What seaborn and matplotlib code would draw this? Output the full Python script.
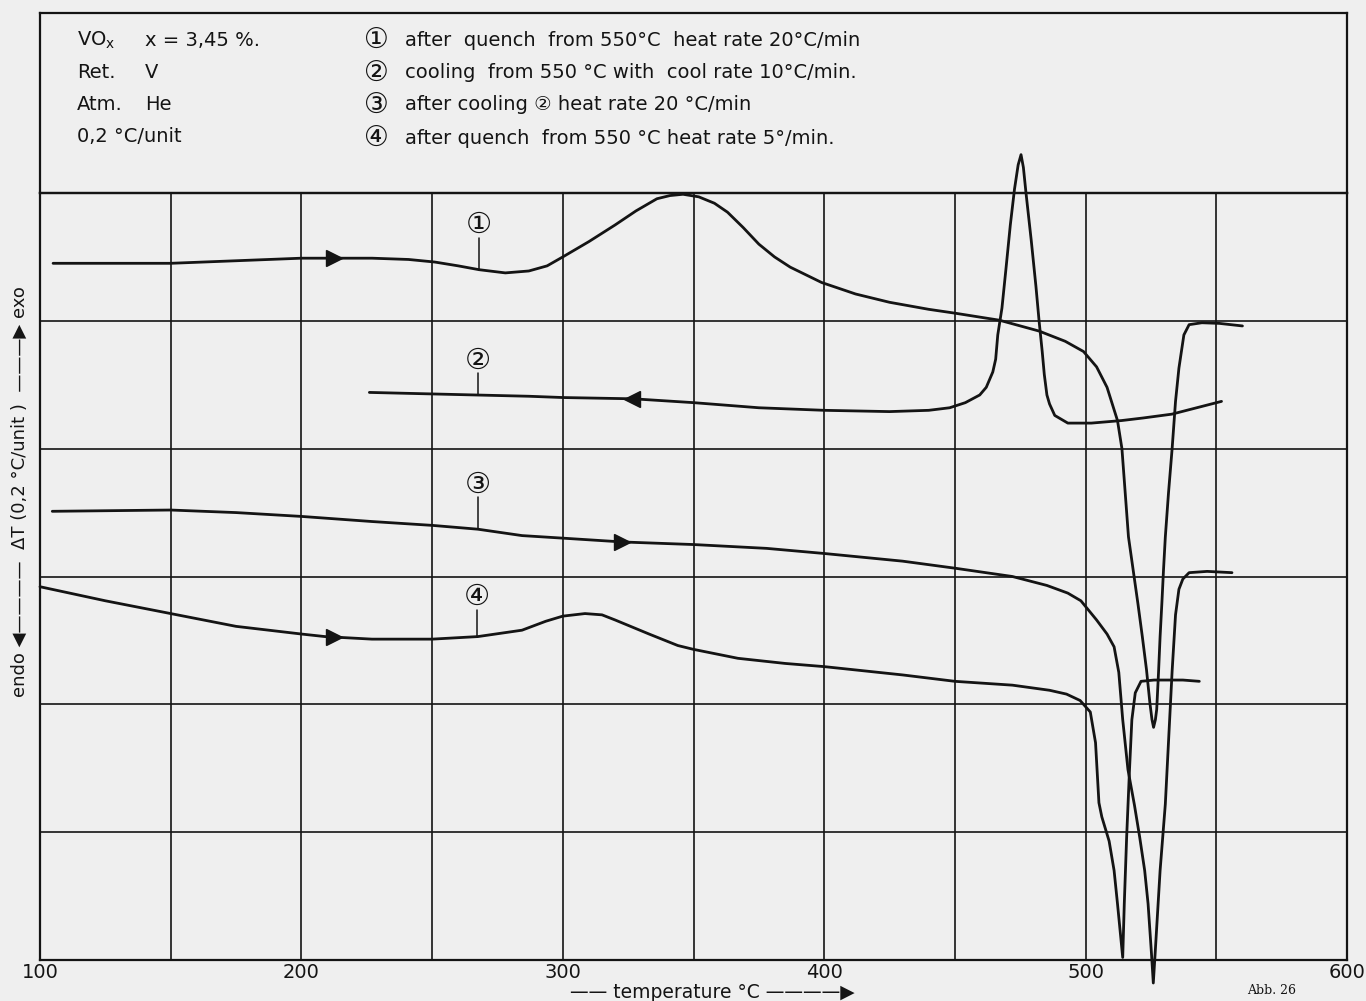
import numpy as np
import pandas as pd
import matplotlib
matplotlib.use("Agg")
import matplotlib.pyplot as plt
import seaborn as sns

# ---------------- data (temperature in °C, ΔT in grid units of 0.2 °C) ----------------
c1_T = [105, 130, 150, 175, 200, 227, 241, 251, 260, 268, 278, 287, 294, 300, 310, 320, 328,
        336, 341, 346, 352, 358, 363, 369, 375, 381, 387, 399, 412, 425, 440, 450, 467, 482.2,
        492.2, 499.2, 504.2, 508.2, 512.2, 513.9, 516.4, 518.2, 520, 521.7, 523.3, 524.6, 525.4,
        526, 526.7, 527.2, 527.9, 528.5, 529.2, 529.8, 530.5, 531.7, 533.1, 534.4, 535.7, 537.6,
        539.6, 544.5, 551.2, 560]
c1_dT = [5.45, 5.45, 5.45, 5.47, 5.49, 5.49, 5.48, 5.46, 5.43, 5.40, 5.375, 5.39, 5.43, 5.50,
         5.62, 5.75, 5.86, 5.955, 5.98, 5.99, 5.97, 5.92, 5.85, 5.73, 5.60, 5.50, 5.42, 5.30,
         5.21, 5.145, 5.09, 5.06, 5.005, 4.92, 4.84, 4.76, 4.64, 4.48, 4.22, 4.0, 3.31, 3.05,
         2.79, 2.53, 2.27, 2.01, 1.88, 1.82, 1.88, 1.96, 2.25, 2.53, 2.80, 3.05, 3.31, 3.65, 4.0,
         4.37, 4.63, 4.89, 4.97, 4.985, 4.98, 4.96]

# cooling run: recorded from high to low temperature
c2_T = [552, 542.5, 533, 522, 513.8, 502.2, 493.2, 488.2, 486.2, 485.2, 484.2, 483.4, 482.2,
        481, 479.2, 477.2, 476.2, 475.3, 474.2, 472.8, 471.2, 469.5, 468, 466.4, 465.6, 464.5,
        462, 459.5, 454, 448, 440, 425, 400, 375, 350, 327, 300, 287, 266.5, 226]
c2_dT = [4.37, 4.32, 4.27, 4.24, 4.22, 4.20, 4.20, 4.26, 4.35, 4.42, 4.58, 4.76, 5.0, 5.27,
         5.63, 6.0, 6.2, 6.30, 6.22, 6.03, 5.75, 5.40, 5.10, 4.89, 4.70, 4.60, 4.48, 4.42, 4.36,
         4.32, 4.30, 4.29, 4.30, 4.32, 4.36, 4.39, 4.40, 4.41, 4.42, 4.44]

c3_T = [104.7, 150, 175, 200, 227, 250, 267.5, 284.4, 300, 323, 350, 378, 400, 430, 450, 472,
        485.2, 493.2, 498.2, 504.2, 508.2, 510.9, 512.7, 514.2, 516.2, 518.7, 520.7, 522.6,
        523.9, 525.2, 525.9, 526.6, 528.5, 530.5, 531.8, 533.1, 534.4, 535.7, 537.2, 539.6,
        546.5, 556]
c3_dT = [3.51, 3.52, 3.50, 3.47, 3.43, 3.40, 3.37, 3.32, 3.30, 3.27, 3.25, 3.22, 3.18, 3.12,
         3.065, 3.0, 2.93, 2.87, 2.81, 2.66, 2.55, 2.45, 2.25, 1.88, 1.49, 1.21, 0.96, 0.70,
         0.44, 0.05, -0.18, 0.05, 0.70, 1.22, 1.74, 2.26, 2.70, 2.90, 2.98, 3.03, 3.04, 3.03]

c4_T = [100, 125, 150, 175, 200, 209, 227, 250, 267.5, 284.4, 293.5, 300, 308.5, 315, 320, 333,
        344, 350, 367, 385, 400, 430, 450, 472, 486.2, 492.7, 497.9, 501.8, 503.8, 505.1, 506.2,
        509, 510.9, 512.2, 513.2, 514.2, 514.8, 515.7, 516.8, 517.7, 519, 521.2, 526.2, 537.2,
        543.5]
c4_dT = [2.92, 2.81, 2.71, 2.61, 2.55, 2.53, 2.51, 2.51, 2.53, 2.58, 2.65, 2.69, 2.71, 2.70,
         2.66, 2.55, 2.46, 2.43, 2.36, 2.32, 2.295, 2.23, 2.18, 2.15, 2.11, 2.08, 2.03, 1.94,
         1.70, 1.23, 1.12, 0.93, 0.70, 0.44, 0.23, 0.02, 0.44, 0.96, 1.49, 1.88, 2.09, 2.18,
         2.19, 2.19, 2.18]

curve_ids = ["1", "2", "3", "4"]
arrow_T = [212.5, 326.5, 322.5, 212.5]          # where the direction arrow sits on each run
arrow_dir = [">", "<", ">", ">"]
label_T = [268, 267.5, 267.5, 267]               # where the circled run numbers sit
label_dT = [5.75, 4.69, 3.72, 2.84]
circled = ["\u2460", "\u2461", "\u2462", "\u2463"]

x_ticks = [100, 150, 200, 250, 300, 350, 400, 450, 500, 550, 600]
x_tick_labels = ["100", "", "200", "", "300", "", "400", "", "500", "", "600"]
y_ticks = [0, 1, 2, 3, 4, 5, 6]

info_left = [("VO$_\\mathregular{x}$", "x = 3,45 %."), ("Ret.", "V"), ("Atm.", "He"),
             ("0,2 °C/unit", "")]
legend_texts = ["after  quench  from 550°C  heat rate 20°C/min",
                "cooling  from 550 °C with  cool rate 10°C/min.",
                "after cooling \u2461 heat rate 20 °C/min",
                "after quench  from 550 °C heat rate 5°/min."]

# ---------------- style ----------------
BG = "#efefef"
INK = "#141414"
W, H = 1366, 1001

sns.set_theme(style="white")
plt.rcParams["font.family"] = ["DejaVu Sans", "Noto Sans CJK JP"]
plt.rcParams["axes.edgecolor"] = INK

fig = plt.figure(figsize=(W / 100, H / 100), dpi=100, facecolor=BG)

def fx(px):
    return px / W

def fy(py):
    return 1 - py / H

# legend box (top)
box = fig.add_axes([fx(40), fy(193), fx(1347) - fx(40), fy(13) - fy(193)])
box.set_facecolor("none")
box.set_xticks([])
box.set_yticks([])
for s in box.spines.values():
    s.set_linewidth(1.6)
    s.set_color(INK)

# main plot area
ax = fig.add_axes([fx(40), fy(960), fx(1347) - fx(40), fy(193) - fy(960)])
ax.set_facecolor("none")

frames = []
for cid, T, d in zip(curve_ids, [c1_T, c2_T, c3_T, c4_T], [c1_dT, c2_dT, c3_dT, c4_dT]):
    frames.append(pd.DataFrame({"T": T, "dT": d, "run": cid, "order": range(len(T))}))
df = pd.concat(frames, ignore_index=True)

for cid in curve_ids:
    sub = df[df["run"] == cid]
    sns.lineplot(data=sub, x="T", y="dT", sort=False, estimator=None, color=INK,
                 linewidth=2.0, ax=ax, clip_on=False, zorder=5,
                 solid_joinstyle="round", solid_capstyle="round")

# direction arrows on each run
for cid, at, mk in zip(curve_ids, arrow_T, arrow_dir):
    sub = df[df["run"] == cid].sort_values("T")
    ay = np.interp(at, sub["T"], sub["dT"])
    ax.plot([at], [ay], marker=mk, markersize=12, color=INK, zorder=6, clip_on=False)

# circled run numbers with leader lines
for cid, lt, ld, cs in zip(curve_ids, label_T, label_dT, circled):
    sub = df[df["run"] == cid].sort_values("T")
    cy = np.interp(lt, sub["T"], sub["dT"])
    ax.text(lt, ld, cs, fontsize=21, ha="center", va="center", color=INK, zorder=6)
    ax.plot([lt, lt], [ld - 0.10, cy], color=INK, linewidth=1.1, zorder=6)

ax.set_xlim(100, 600)
ax.set_ylim(0, 6)
ax.set_xticks(x_ticks)
ax.set_xticklabels(x_tick_labels)
ax.set_yticks(y_ticks)
ax.set_yticklabels([])
ax.grid(True, color=INK, linewidth=1.2)
ax.tick_params(axis="both", length=0, pad=2, labelsize=14, colors=INK)
ax.set_xlabel("")
ax.set_ylabel("")
for s in ax.spines.values():
    s.set_linewidth(1.6)
    s.set_color(INK)
    s.set_visible(True)

# ---------------- text ----------------
rows = [40, 72, 104, 137]
for (a, b), r in zip(info_left, rows):
    fig.text(fx(77), fy(r), a, fontsize=14, va="center", ha="left", color=INK)
    if b:
        fig.text(fx(145), fy(r), b, fontsize=14, va="center", ha="left", color=INK)

rows_r = [40, 73, 105, 138]
for cs, t, r in zip(circled, legend_texts, rows_r):
    fig.text(fx(376), fy(r), cs, fontsize=20, va="center", ha="center", color=INK)
    fig.text(fx(405), fy(r), t, fontsize=14, va="center", ha="left", color=INK)

fig.text(fx(20), fy(492), "endo \u25C0\u2014\u2014\u2014\u2014  \u0394T (0,2 °C/unit )  \u2014\u2014\u2014\u25B6 exo",
         rotation=90, fontsize=13, va="center", ha="center", color=INK)
fig.text(fx(712), fy(992), "\u2014\u2014 temperature °C \u2014\u2014\u2014\u2014\u25B6",
         fontsize=13.5, va="center", ha="center", color=INK)
fig.text(fx(1272), fy(991), "Abb. 26", fontsize=9, va="center", ha="center", color=INK,
         family="DejaVu Serif")

fig.savefig("out.png", dpi=100, facecolor=BG)
